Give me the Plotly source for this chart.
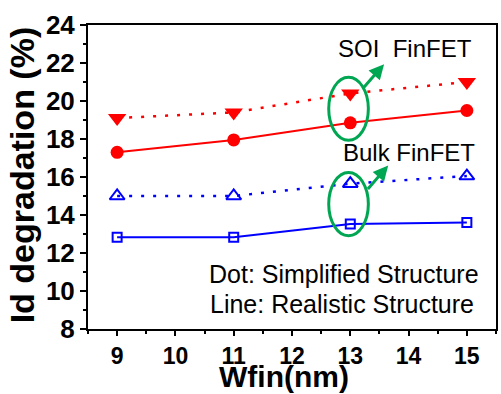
import plotly.graph_objects as go

wfin = [9, 11, 13, 15]
soi_dot = [19.1, 19.4, 20.4, 21.0]      # Simplified structure (dot)
soi_line = [17.3, 17.95, 18.85, 19.5]   # Realistic structure (line)
bulk_dot = [15.0, 15.0, 15.65, 16.05]
bulk_line = [12.83, 12.83, 13.53, 13.6]

y_ticks = [8, 10, 12, 14, 16, 18, 20, 22, 24]
x_ticks = [9, 10, 11, 12, 13, 14, 15]

FONT = "Liberation Sans, Arial, sans-serif"
RED = "#ff0000"
BLUE = "#0000ff"
GREEN = "#00a651"

W, H = 501, 394
L, R, T, B = 88, 3, 25, 65
PW, PH = W - L - R, H - T - B

fig = go.Figure()
fig.add_trace(go.Scatter(x=wfin, y=soi_dot, mode="lines+markers",
                         line=dict(color=RED, width=2.5, dash="3px,9px"),
                         marker=dict(symbol="triangle-down", size=16, color=RED)))
fig.add_trace(go.Scatter(x=wfin, y=soi_line, mode="lines+markers",
                         line=dict(color=RED, width=2),
                         marker=dict(symbol="circle", size=13, color=RED)))
fig.add_trace(go.Scatter(x=wfin, y=bulk_dot, mode="lines+markers",
                         line=dict(color=BLUE, width=2.5, dash="3px,9px"),
                         marker=dict(symbol="triangle-up-open", size=13, color=BLUE,
                                     line=dict(width=2, color=BLUE))))
fig.add_trace(go.Scatter(x=wfin, y=bulk_line, mode="lines+markers",
                         line=dict(color=BLUE, width=2),
                         marker=dict(symbol="square-open", size=9, color=BLUE,
                                     line=dict(width=2, color=BLUE))))

# ellipses
for y0, y1 in [(17.93, 21.25), (12.91, 16.24)]:
    fig.add_shape(type="circle", xref="x", yref="y", x0=12.63, x1=13.31, y0=y0, y1=y1,
                  line=dict(color=GREEN, width=3))

# arrows
for (tx, ty, hx, hy) in [(13.19, 20.57, 13.58, 21.94), (13.28, 15.29, 13.65, 16.61)]:
    fig.add_annotation(x=hx, y=hy, ax=tx, ay=ty, xref="x", yref="y", axref="x", ayref="y",
                       text="", showarrow=True, arrowhead=2, arrowsize=1, arrowwidth=3,
                       arrowcolor=GREEN, standoff=0, startstandoff=0)


def px2paper(px, py):
    return (px - L) / PW, (H - B - py) / PH


def paper_txt(text, px, py, size, anchor="center", bold=False, angle=0, yanchor="middle"):
    x, y = px2paper(px, py)
    fig.add_annotation(x=x, y=y, xref="paper", yref="paper",
                       text=text, showarrow=False, xanchor=anchor, yanchor=yanchor,
                       textangle=angle,
                       font=dict(family=FONT, size=size, color="black",
                                 weight="bold" if bold else "normal"))


paper_txt("SOI  FinFET", 407, 48, 24)
paper_txt("Bulk FinFET", 411, 152, 24)
paper_txt("Dot: Simplified Structure", 483, 274, 25, anchor="right")
paper_txt("Line: Realistic Structure", 478, 304, 25, anchor="right")

# axis titles
paper_txt("Wfin(nm)", 285, 395, 30, bold=True, yanchor="bottom")
paper_txt("Id degradation (%)", 22, 175, 34, bold=True, angle=-90)

fig.update_layout(
    width=W, height=H,
    margin=dict(l=L, r=R, t=T, b=B),
    paper_bgcolor="white", plot_bgcolor="white",
    showlegend=False,
    font=dict(family=FONT, color="black"),
)
fig.update_xaxes(range=[8.5, 15.5], tickvals=x_ticks, ticktext=[str(v) for v in x_ticks],
                 ticks="outside", ticklen=5, tickwidth=2, tickcolor="black",
                 minor=dict(dtick=0.5, tick0=8.5, ticks="outside", ticklen=3, tickwidth=2, tickcolor="black"),
                 showline=True, linewidth=2, linecolor="black", mirror=True,
                 showgrid=False, zeroline=False,
                 tickfont=dict(family=FONT, size=23, color="black", weight="bold"))
fig.update_yaxes(range=[8, 24], tickvals=y_ticks, ticktext=[str(v) for v in y_ticks],
                 ticks="outside", ticklen=6, tickwidth=2, tickcolor="black",
                 minor=dict(dtick=1, tick0=8, ticks="outside", ticklen=3, tickwidth=2, tickcolor="black"),
                 showline=True, linewidth=2, linecolor="black", mirror=True,
                 showgrid=False, zeroline=False, ticklabelstandoff=0,
                 tickfont=dict(family=FONT, size=26, color="black", weight="bold"))

fig.write_html("out.html")
